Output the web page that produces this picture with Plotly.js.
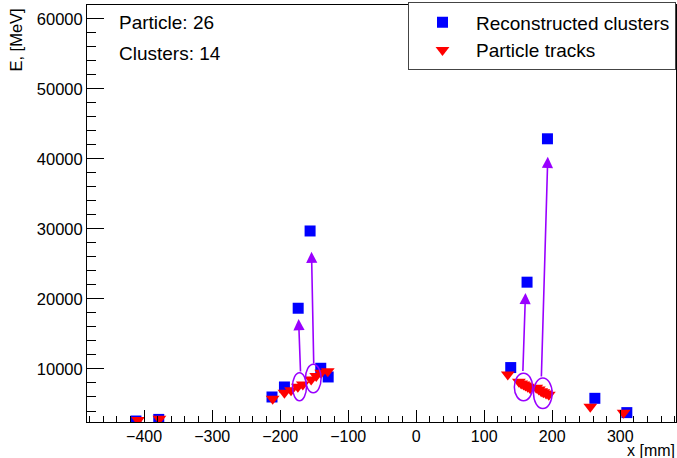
<!DOCTYPE html>
<html>
<head>
<meta charset="utf-8">
<script src="https://cdn.plot.ly/plotly-3.0.1.min.js"></script>
<style>html,body{margin:0;padding:0;background:#fff;}#chart{width:677px;height:458px;}</style>
</head>
<body>
<div id="chart"></div>
<script>
// Reconstructed clusters
var clusterX = [-412, -378.5, -212, -193.7, -173.5, -156, -140.3, -129.4, 139, 163, 193, 262.7, 309.7];
var clusterE = [2570, 2800, 6000, 7430, 18670, 29700, 10100, 8860, 10200, 22390, 42860, 5810, 3770];

// Particle tracks
var trackX = [-409, -377.5, -211, -193.7, -184, -174, -166.7, -154.4, -147, -139.7, -130,
              134.7, 151, 154.4, 157.8, 160.7, 164, 167.6, 176.5, 180.3, 183.8, 187, 191, 195, 256, 305];
var trackE = [2700, 2900, 5750, 6600, 6980, 7460, 7790, 8510, 8980, 9460, 9690,
              9220, 8180, 7930, 7790, 7650, 7460, 7260, 7320, 7080, 6830, 6690, 6510, 6320, 4610, 3750];

// Matching ellipses (center, half-width, half-height)
var ellX  = [-171.6, -151.3, 157.8, 186.2];
var ellE  = [7470, 8630, 7430, 6530];
var ellDX = [10.3, 11.5, 13.5, 13.7];
var ellDE = [2000, 2040, 1970, 2190];

// Arrows from matched tracks to clusters
var arrFromX = [-170, -150.6, 156.8, 184];
var arrFromE = [9430, 10550, 9490, 8710];
var arrToX   = [-172.9, -153.9, 160.7, 193.5];
var arrToE   = [17130, 26730, 20860, 40290];

var infoLines = ['Particle: 26', 'Clusters: 14'];
var seriesNames = ['Reconstructed clusters', 'Particle tracks'];
var xTitle = 'x [mm]';
var yTitle = 'E, [MeV]';

var purple = '#9900ff';
var font = 'Liberation Sans, Arial, Helvetica, sans-serif';

var traces = [
  {x: clusterX, y: clusterE, type: 'scatter', mode: 'markers', name: seriesNames[0],
   marker: {symbol: 'square', size: 11, color: '#0000ff', line: {width: 0}}},
  {x: trackX, y: trackE, type: 'scatter', mode: 'markers', name: seriesNames[1],
   marker: {symbol: 'triangle-down', size: 12, color: '#ff0000', line: {width: 0}}}
];

var shapes = [];
for (var i = 0; i < ellX.length; i++) {
  shapes.push({type: 'circle', xref: 'x', yref: 'y',
    x0: ellX[i] - ellDX[i], x1: ellX[i] + ellDX[i],
    y0: ellE[i] - ellDE[i], y1: ellE[i] + ellDE[i],
    line: {color: purple, width: 1.5}, fillcolor: 'rgba(0,0,0,0)'});
}

var annotations = [];
for (var j = 0; j < arrFromX.length; j++) {
  annotations.push({x: arrToX[j], y: arrToE[j], ax: arrFromX[j], ay: arrFromE[j],
    xref: 'x', yref: 'y', axref: 'x', ayref: 'y', text: '', showarrow: true,
    arrowhead: 2, arrowsize: 1.4, arrowwidth: 1.6, arrowcolor: purple, standoff: 0, startstandoff: 0});
}
annotations.push({xref: 'paper', yref: 'paper', x: 0.0509, y: 0.959, xanchor: 'left', yanchor: 'middle',
  text: infoLines[0], showarrow: false, font: {family: font, size: 19, color: '#000'}});
annotations.push({xref: 'paper', yref: 'paper', x: 0.0509, y: 0.8825, xanchor: 'left', yanchor: 'middle',
  text: infoLines[1], showarrow: false, font: {family: font, size: 19, color: '#000'}});
annotations.push({xref: 'paper', yref: 'paper', x: -0.1205, y: 0.995, xanchor: 'center', yanchor: 'top',
  textangle: -90, text: yTitle, showarrow: false, font: {family: font, size: 16.5, color: '#000'}});
annotations.push({xref: 'paper', yref: 'paper', x: 1, y: -0.0672, xanchor: 'right', yanchor: 'middle',
  text: xTitle, showarrow: false, borderpad: 0, font: {family: font, size: 16, color: '#000'}});

var layout = {
  width: 677, height: 458,
  margin: {l: 87, r: 1, t: 5, b: 36},
  paper_bgcolor: '#fff', plot_bgcolor: '#fff',
  font: {family: font, size: 16, color: '#000'},
  showlegend: true,
  legend: {x: 1, y: 1.006, xanchor: 'right', yanchor: 'top', bgcolor: '#fff',
    bordercolor: '#444', borderwidth: 1, font: {family: font, size: 19, color: '#000'},
    itemwidth: 57},
  xaxis: {range: [-484, 382], showgrid: false, zeroline: false, showline: true, linecolor: '#000',
    linewidth: 1, mirror: true, ticks: 'inside', ticklen: 12, tickcolor: '#000', tick0: 0, dtick: 100,
    tickfont: {family: font, size: 16, color: '#000'},
    minor: {dtick: 20, tick0: 0, ticks: 'inside', ticklen: 6, tickcolor: '#000', showgrid: false}},
  yaxis: {range: [2430, 61960], showgrid: false, zeroline: false, showline: true, linecolor: '#000',
    linewidth: 1, mirror: true, ticks: 'inside', ticklen: 17, tickcolor: '#000', tick0: 0, dtick: 10000,
    tickformat: 'd', tickfont: {family: font, size: 16.5, color: '#000'},
    minor: {dtick: 2000, tick0: 0, ticks: 'inside', ticklen: 8.5, tickcolor: '#000', showgrid: false}},
  shapes: shapes,
  annotations: annotations
};

Plotly.newPlot('chart', traces, layout, {displayModeBar: false, staticPlot: true});
</script>
</body>
</html>
